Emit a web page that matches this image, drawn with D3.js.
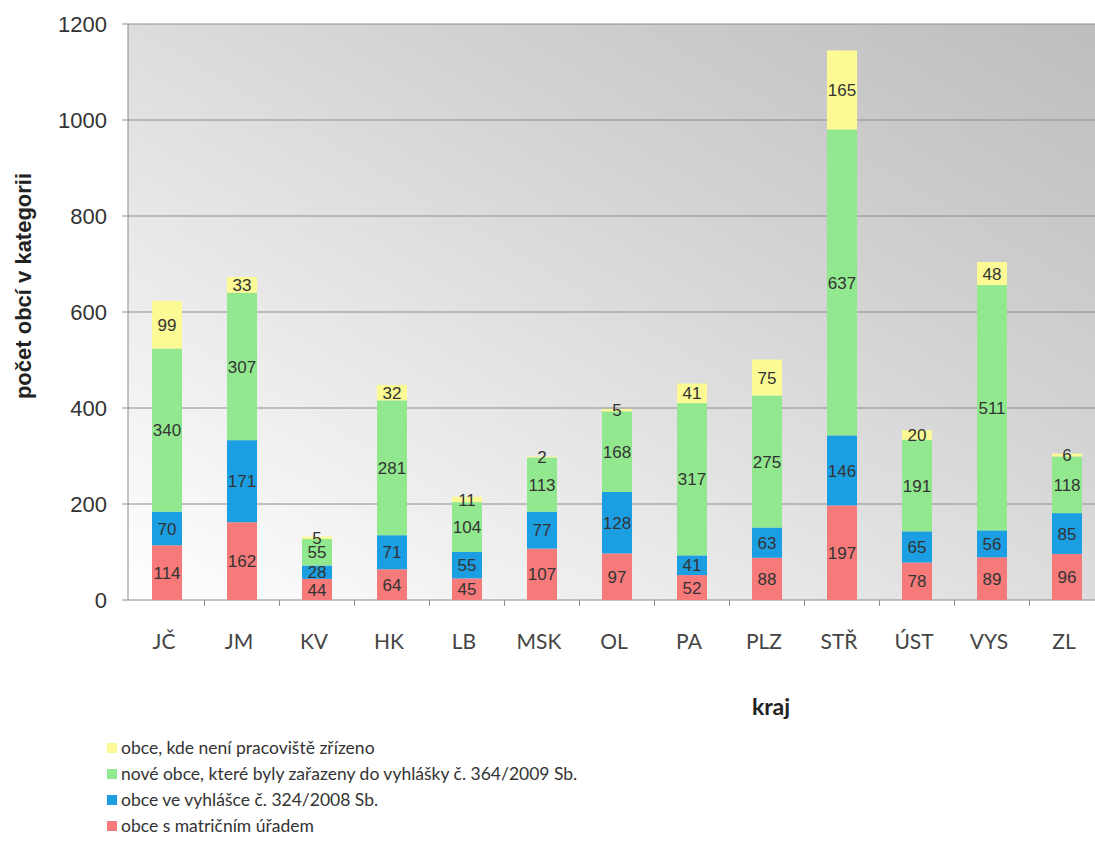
<!DOCTYPE html>
<html><head><meta charset="utf-8">
<script src="https://cdn.jsdelivr.net/npm/d3@7"></script>
<style>body{margin:0;background:#fff}svg{display:block}</style>
</head><body>
<svg id="c" width="1095" height="864"></svg>
<script>
const categories = ["JČ","JM","KV","HK","LB","MSK","OL","PA","PLZ","STŘ","ÚST","VYS","ZL"];
const matricni = [114,162,44,64,45,107,97,52,88,197,78,89,96];
const vyhlaska2008 = [70,171,28,71,55,77,128,41,63,146,65,56,85];
const noveObce = [340,307,55,281,104,113,168,317,275,637,191,511,118];
const nezrizeno = [99,33,5,32,11,2,5,41,75,165,20,48,6];
const yTicks = [0,200,400,600,800,1000,1200];
const seriesNames = ["obce s matričním úřadem","obce ve vyhlášce č. 324/2008 Sb.","nové obce, které byly zařazeny do vyhlášky č. 364/2009 Sb.","obce, kde není pracoviště zřízeno"];
const seriesColors = ["#f77a7a","#1c9fe2","#92e88e","#fbfa94"];
const seriesValues = [matricni, vyhlaska2008, noveObce, nezrizeno];

(function(){
const svg = d3.select("#c");
const mLeft = 128, mTop = 24, mBottom = 600, mRight = 1104.5;
const xb = d3.scaleBand().domain(categories).range([129.5, mRight]);
const y = d3.scaleLinear().domain([0,1200]).range([mBottom, mTop]);

const defs = svg.append("defs");
const g = defs.append("linearGradient").attr("id","bg").attr("x1",1).attr("y1",0).attr("x2",0).attr("y2",1);
g.append("stop").attr("offset",0).attr("stop-color","#bdbdbd");
g.append("stop").attr("offset",0.35).attr("stop-color","#d2d2d2");
g.append("stop").attr("offset",1).attr("stop-color","#ffffff");

svg.append("rect").attr("x",mLeft).attr("y",mTop).attr("width",mRight-mLeft).attr("height",mBottom-mTop).attr("fill","url(#bg)");

svg.append("g").selectAll("line").data(yTicks).join("line")
  .attr("x1",mLeft-6).attr("x2",mRight).attr("y1",d=>y(d)).attr("y2",d=>y(d))
  .attr("stroke","#8c8c8c").attr("stroke-width",1);
svg.append("line").attr("x1",mLeft).attr("x2",mLeft).attr("y1",mTop).attr("y2",mBottom).attr("stroke","#8c8c8c");
svg.append("g").selectAll("line").data(categories.slice(1)).join("line")
  .attr("x1",d=>xb(d)).attr("x2",d=>xb(d)).attr("y1",mBottom).attr("y2",mBottom+6)
  .attr("stroke","#8c8c8c");

svg.append("g").selectAll("text").data(yTicks).join("text")
  .attr("x",107).attr("y",d=>y(d)).attr("dy","0.35em").attr("text-anchor","end")
  .attr("font-family","Liberation Sans, Arial, sans-serif").attr("font-size",22).attr("fill","#333")
  .text(d=>d);

const data = categories.map((c,i)=>({cat:c, vals: seriesValues.map(s=>s[i])}));
const stacked = [];
data.forEach(d=>{
  let acc=0;
  d.vals.forEach((v,k)=>{ stacked.push({cat:d.cat,k,v,y0:acc,y1:acc+v}); acc+=v; });
});
const bw = 30;
svg.append("g").selectAll("rect").data(stacked).join("rect")
  .attr("x",d=>xb(d.cat)+xb.bandwidth()/2-bw/2).attr("width",bw)
  .attr("y",d=>y(d.y1)).attr("height",d=>y(d.y0)-y(d.y1))
  .attr("fill",d=>seriesColors[d.k]);
svg.append("g").selectAll("text").data(stacked).join("text")
  .attr("x",d=>xb(d.cat)+xb.bandwidth()/2).attr("y",d=>(y(d.y0)+y(d.y1))/2).attr("dy","0.36em")
  .attr("text-anchor","middle").attr("font-family","Liberation Sans, Arial, sans-serif").attr("font-size",17)
  .attr("fill","#333").text(d=>d.v);

svg.append("g").selectAll("text").data(categories).join("text")
  .attr("x",d=>xb(d)+xb.bandwidth()/2-3).attr("y",642).attr("dy","0.35em").attr("text-anchor","middle")
  .attr("font-family","Lato, Open Sans, sans-serif").attr("font-size",21).attr("fill","#444").text(d=>d);

svg.append("text").attr("transform","translate(31,286) rotate(-90)").attr("text-anchor","middle")
  .attr("font-family","Liberation Sans, Arial, sans-serif").attr("font-size",22).attr("font-weight","bold").attr("fill","#222")
  .text("počet obcí v kategorii");
svg.append("text").attr("x",771).attr("y",707).attr("dy","0.35em").attr("text-anchor","middle")
  .attr("font-family","Lato, Open Sans, sans-serif").attr("font-size",23).attr("font-weight","bold").attr("fill","#222")
  .text("kraj");

const leg = [3,2,1,0];
const lg = svg.append("g").selectAll("g").data(leg).join("g")
  .attr("transform",(d,i)=>`translate(107,${748+i*26})`);
lg.append("rect").attr("x",0).attr("y",-5).attr("width",10).attr("height",10).attr("fill",d=>seriesColors[d]);
lg.append("text").attr("x",14).attr("y",0).attr("dy","0.35em").attr("font-family","Lato, Open Sans, sans-serif")
  .attr("font-size",17.5).attr("fill","#333").text(d=>seriesNames[d]);
})();
</script>
</body></html>
